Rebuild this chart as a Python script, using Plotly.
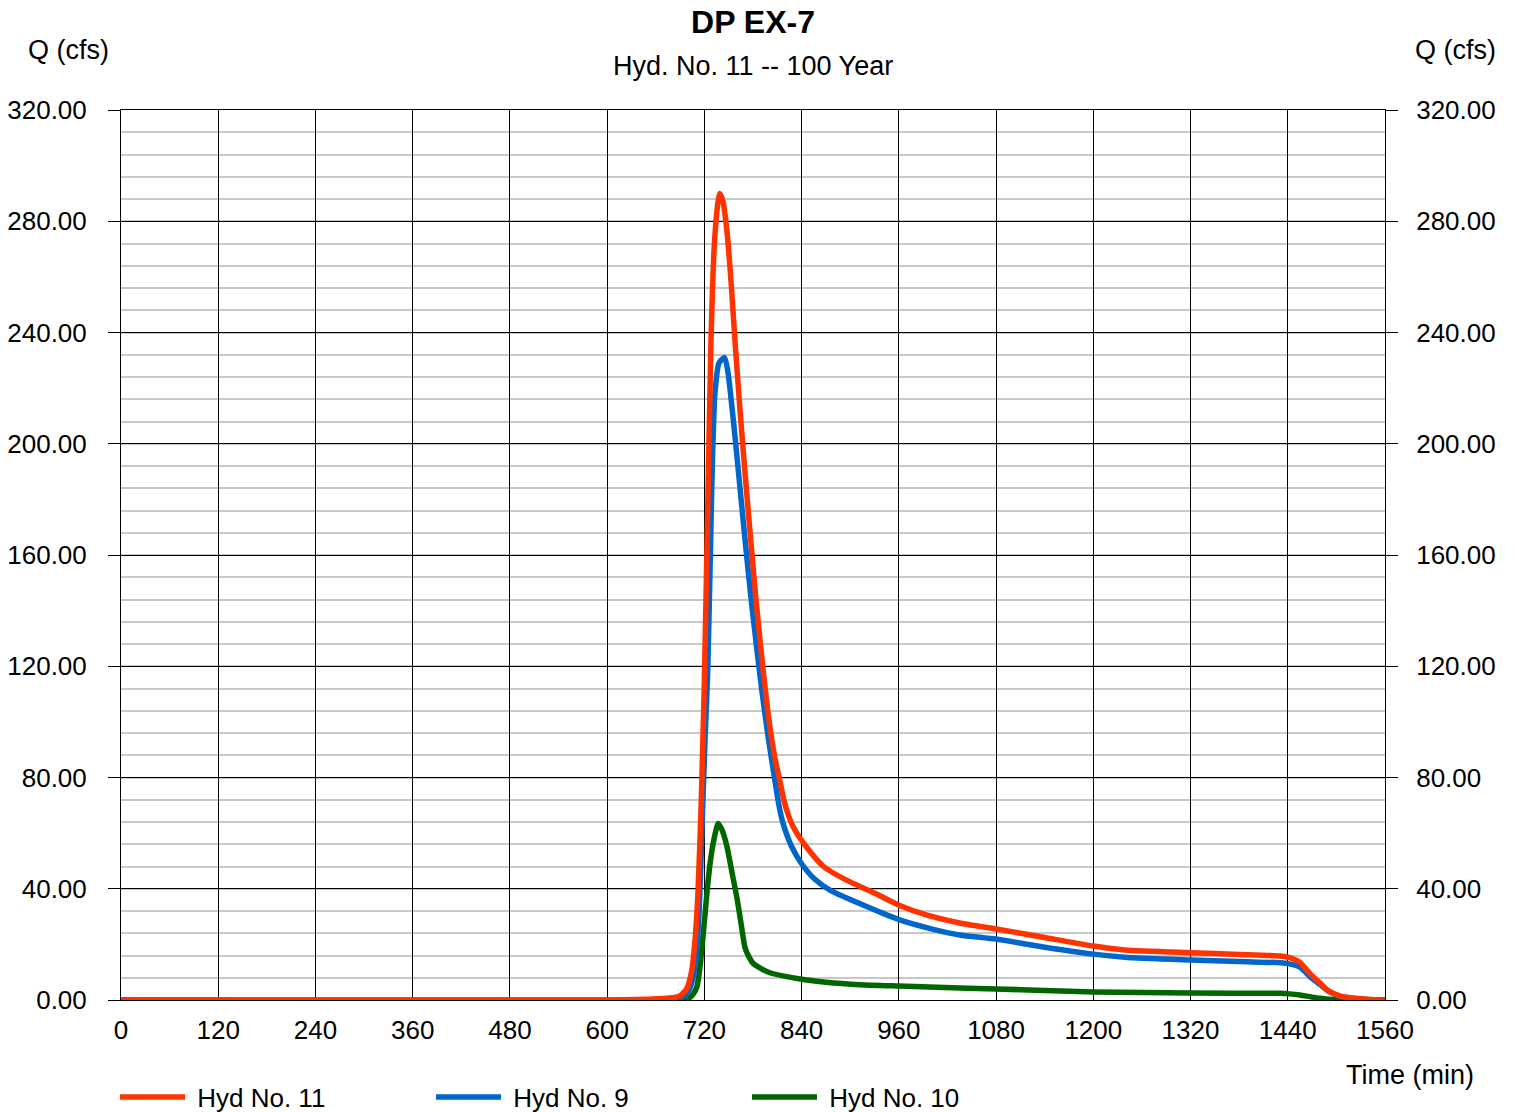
import plotly.graph_objects as go

# ---- data ----
time_h11 = [0, 600, 650, 680, 690, 698, 704, 708, 712, 716, 720, 724, 728, 732, 736, 739, 743, 748,
            753, 758, 764, 770, 777, 784, 792, 800, 807, 813, 818, 823, 830, 846, 867, 896, 933, 961,
            994, 1035, 1080, 1140, 1200, 1239, 1320, 1380, 1431, 1442, 1455, 1467, 1480, 1490, 1504,
            1517, 1540, 1560]
flow_h11 = [0, 0, 0.3, 0.8, 1.5, 4, 10, 20, 38, 70, 115, 175, 235, 270, 285, 290, 287, 276,
            258, 236, 212, 190, 166, 143, 120, 100, 87, 79, 72, 67, 62, 55, 48, 43, 38, 34,
            30.6, 27.7, 25.5, 22.5, 19.4, 18, 17, 16.4, 15.8, 15.2, 13.5, 9.6, 6, 3.3, 1.5,
            0.8, 0.2, 0]

time_h9 = [0, 600, 680, 692, 700, 706, 710, 714, 718, 721, 724, 727, 730, 733, 738, 745, 749, 753,
           758, 764, 770, 777, 784, 791, 799, 807, 812, 817, 828, 840, 856, 875, 921, 961, 1000,
           1035, 1080, 1140, 1200, 1239, 1320, 1380, 1431, 1442, 1455, 1467, 1480, 1490, 1504,
           1517, 1540, 1560]
flow_h9 = [0, 0, 0.3, 1, 3, 8, 16, 35, 70, 95, 117, 155, 195, 218, 229, 231, 226, 216,
           202, 184, 166, 146, 128, 111, 94, 79, 70, 63.6, 55, 49, 43.5, 39.5, 33.5, 28.8, 25.6,
           23.4, 21.9, 19, 16.5, 15.4, 14.4, 13.8, 13.4, 13, 11.8, 8.5, 5.5, 3.2, 1.4,
           0.7, 0.2, 0]

time_h10 = [0, 690, 700, 706, 711, 715, 719, 723, 727, 732, 737, 742, 748, 754, 760, 765, 770, 775,
            780, 790, 801, 820, 842, 870, 912, 960, 1035, 1080, 1140, 1200, 1320, 1431, 1442, 1455,
            1467, 1480, 1495, 1517, 1560]
flow_h10 = [0, 0, 0.5, 2, 5, 13, 25, 38, 49, 58, 63.5, 61, 55, 46, 37, 28, 19, 15.5,
            13.2, 11.3, 9.8, 8.5, 7.4, 6.4, 5.5, 5.0, 4.3, 4.0, 3.4, 2.9, 2.5, 2.4, 2.2, 1.8,
            1.2, 0.6, 0.2, 0, 0]

series_names = ["Hyd No. 11", "Hyd No. 9", "Hyd No. 10"]
series_colors = ["#FF3300", "#0066CC", "#006600"]

x_ticks = list(range(0, 1561, 120))
y_ticks = list(range(0, 321, 40))

FONT = "Liberation Sans, Arial, sans-serif"

fig = go.Figure()
# draw order: green (bottom), blue, red (top); legend order red, blue, green
for t, q, name, color, rank, yax in [
    (time_h10, flow_h10, series_names[2], series_colors[2], 3, "y"),
    (time_h9, flow_h9, series_names[1], series_colors[1], 2, "y"),
    (time_h11, flow_h11, series_names[0], series_colors[0], 1, "y2"),
]:
    fig.add_trace(go.Scatter(x=t, y=q, mode="lines", name="\u00a0" + name, legendrank=rank,
                             yaxis=yax,
                             line=dict(color=color, width=5.5, shape="spline", smoothing=0.6)))

axis_font = dict(family=FONT, size=26, color="black")

fig.update_layout(
    width=1515, height=1112,
    margin=dict(l=121, r=130, t=110, b=112, autoexpand=False),
    paper_bgcolor="white", plot_bgcolor="white",
    font=dict(family=FONT, size=26, color="black"),
    title=dict(text="<b>DP EX-7</b>", x=0.5, xref="paper", xanchor="center",
               y=1 - 22 / 1112, yanchor="middle",
               font=dict(family=FONT, size=32, color="black")),
    xaxis=dict(range=[0, 1560], tickvals=x_ticks, ticktext=[str(v) for v in x_ticks],
               showgrid=True, gridcolor="black", gridwidth=1, automargin=False,
               ticks="", showline=True, linecolor="black", linewidth=1, mirror=True,
               zeroline=False, tickfont=axis_font, ticklabelstandoff=7),
    yaxis=dict(range=[0, 320], tickvals=y_ticks, tickformat=".2f", automargin=False,
               showgrid=True, gridcolor="black", gridwidth=1,
               minor=dict(dtick=8, showgrid=True, gridcolor="#C8C8C8", gridwidth=2, ticks=""),
               ticks="outside", ticklen=12, tickcolor="black", tickwidth=1,
               showline=True, linecolor="black", linewidth=1, mirror=True,
               zeroline=False, tickfont=axis_font, ticklabelstandoff=16),
    yaxis2=dict(range=[0, 320], tickvals=y_ticks, tickformat=".2f", overlaying="y", side="right",
                automargin=False,
                showgrid=False, ticks="outside", ticklen=12, tickcolor="black", tickwidth=1,
                showline=False, zeroline=False, tickfont=axis_font, ticklabelstandoff=13),
    legend=dict(orientation="h", xref="container", yref="container",
                x=115 / 1515, xanchor="left", y=1 - 1097 / 1112, yanchor="middle",
                entrywidth=236, entrywidthmode="pixels", itemwidth=65,
                font=dict(family=FONT, size=26, color="black"), bgcolor="rgba(0,0,0,0)",
                traceorder="normal"),
    annotations=[
        dict(text="Hyd. No. 11 -- 100 Year", xref="paper", yref="paper",
             x=0.5, y=(1000 - 66) / 890, xanchor="center", yanchor="middle",
             showarrow=False, font=dict(family=FONT, size=27, color="black")),
        dict(text="Q (cfs)", xref="paper", yref="paper",
             x=(68 - 121) / 1264, y=(1000 - 50) / 890, xanchor="center", yanchor="middle",
             showarrow=False, font=dict(family=FONT, size=27, color="black")),
        dict(text="Q (cfs)", xref="paper", yref="paper",
             x=(1455 - 121) / 1264, y=(1000 - 50) / 890, xanchor="center", yanchor="middle",
             showarrow=False, font=dict(family=FONT, size=27, color="black")),
        dict(text="Time (min)", xref="paper", yref="paper",
             x=(1410 - 121) / 1264, y=(1000 - 1075) / 890, xanchor="center", yanchor="middle",
             showarrow=False, font=dict(family=FONT, size=27, color="black")),
    ],
    showlegend=True,
)

fig.write_html("out.html")
